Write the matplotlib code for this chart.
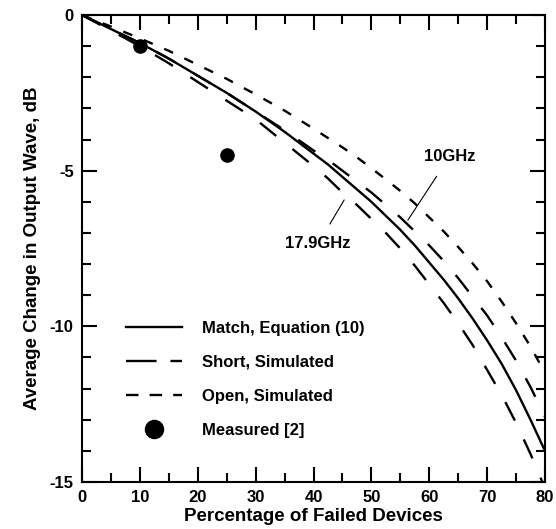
import matplotlib
matplotlib.use("Agg")
import matplotlib.pyplot as plt
from matplotlib.lines import Line2D
from matplotlib.ticker import MultipleLocator

plt.rcParams['font.family'] = ['Liberation Sans', 'DejaVu Sans']
plt.rcParams['font.weight'] = 'bold'
plt.rcParams['lines.scale_dashes'] = False
plt.rcParams['axes.unicode_minus'] = False

# Data
pct = [0, 5, 10, 15, 20, 25, 30, 35, 40, 42.5, 45, 47.5, 50, 52.5, 55, 57.5,
       60, 62.5, 65, 67.5, 70, 72.5, 75, 77.5, 80]
match_eq = [0, -0.45, -0.9, -1.4, -1.95, -2.5, -3.1, -3.75, -4.45, -4.8, -5.2, -5.6,
            -6.0, -6.45, -6.9, -7.4, -7.95, -8.5, -9.1, -9.75, -10.45, -11.2,
            -12.05, -13.0, -14.0]
short_10ghz = [0, -0.45, -0.9, -1.4, -1.95, -2.5, -3.1, -3.7, -4.35, -4.65, -5.0, -5.35,
               -5.7, -6.1, -6.5, -6.95, -7.4, -7.9, -8.45, -9.05, -9.65, -10.35,
               -11.1, -11.95, -12.9]
short_179ghz = [0, -0.5, -1.0, -1.55, -2.15, -2.75, -3.35, -4.1, -4.85, -5.25, -5.7, -6.1,
                -6.55, -7.0, -7.5, -8.05, -8.65, -9.25, -9.9, -10.6, -11.4, -12.2,
                -13.1, -14.1, -15.2]
open_sim = [0, -0.37, -0.75, -1.15, -1.6, -2.05, -2.55, -3.07, -3.65, -3.95, -4.25, -4.57,
            -4.92, -5.28, -5.65, -6.05, -6.5, -6.95, -7.45, -7.98, -8.55, -9.2,
            -9.9, -10.65, -11.5]
meas_x = [10, 25]
meas_y = [-1.0, -4.5]

labels = ["Match, Equation (10)", "Short, Simulated", "Open, Simulated", "Measured [2]"]

fig = plt.figure(figsize=(5.56, 5.29), dpi=100)
ax = fig.add_axes([0.1475, 0.0888, 0.8327, 0.8828])

lw = 1.7
long_dash = (15, 15)
short_dash = (7, 9)

ax.plot(pct, match_eq, color='black', lw=lw)
ax.plot(pct, short_10ghz, color='black', lw=lw, dashes=long_dash)
ax.plot(pct, short_179ghz, color='black', lw=lw, dashes=long_dash)
ax.plot(pct, open_sim, color='black', lw=lw, dashes=short_dash)
ax.plot(meas_x, meas_y, 'o', color='black', ms=9.5, zorder=5)

ax.set_xlim(0, 80)
ax.set_ylim(-15, 0)
ax.xaxis.set_major_locator(MultipleLocator(10))
ax.xaxis.set_minor_locator(MultipleLocator(5))
ax.yaxis.set_major_locator(MultipleLocator(5))
ax.yaxis.set_minor_locator(MultipleLocator(1))
ax.tick_params(which='both', direction='in', top=True, right=True, width=1.5,
               labelsize=12)
ax.tick_params(which='major', length=11, pad=6)
ax.tick_params(which='minor', length=6.5)
for lab in ax.get_xticklabels() + ax.get_yticklabels():
    lab.set_fontweight('bold')
for s in ax.spines.values():
    s.set_linewidth(1.5)

ax.set_xlabel("Percentage of Failed Devices", fontsize=13.5, fontweight='bold', labelpad=2)
ax.set_ylabel("Average Change in Output Wave, dB", fontsize=13.5, fontweight='bold', labelpad=6)

# annotations
ax.annotate("10GHz", xy=(56.3, -6.59), xytext=(63.5, -4.55), fontsize=12,
            fontweight='bold', ha='center', va='center',
            arrowprops=dict(arrowstyle='-', color='black', lw=0.8, shrinkA=8, shrinkB=0))
ax.annotate("17.9GHz", xy=(45.3, -5.94), xytext=(40.8, -7.35), fontsize=12,
            fontweight='bold', ha='center', va='center',
            arrowprops=dict(arrowstyle='-', color='black', lw=0.8, shrinkA=8, shrinkB=0))

handles = [
    Line2D([], [], color='black', lw=lw),
    Line2D([], [], color='black', lw=lw, dashes=(22, 10)),
    Line2D([], [], color='black', lw=lw, dashes=(9, 8)),
    Line2D([], [], marker='o', ls='none', color='black', ms=13),
]
leg = ax.legend(handles, labels, loc='lower left', bbox_to_anchor=(0.062, 0.062),
                frameon=False, handlelength=3.4, handletextpad=1.2,
                labelspacing=1.15, prop={'weight': 'bold', 'size': 12})

fig.savefig("out.png", dpi=100)
